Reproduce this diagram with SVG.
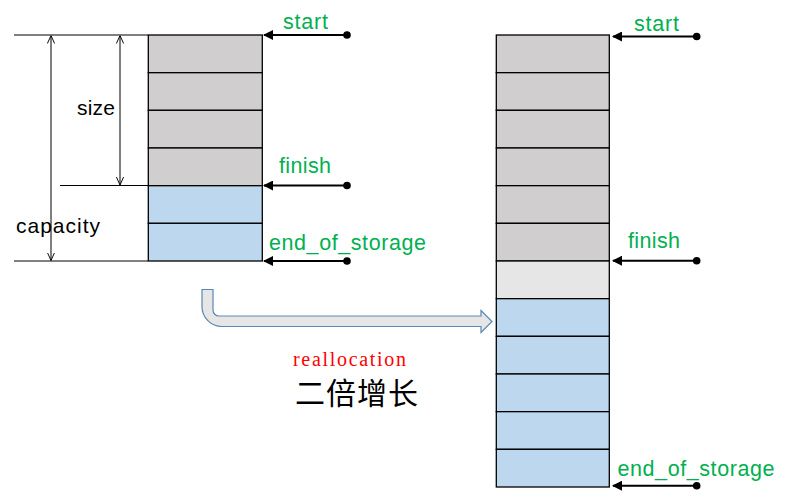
<svg xmlns="http://www.w3.org/2000/svg" width="790" height="497" viewBox="0 0 790 497">
<style>
.g{fill:#D0CECE;stroke:#000;stroke-width:1.3}
.l{fill:#E7E6E6;stroke:#000;stroke-width:1.3}
.b{fill:#BDD7EE;stroke:#000;stroke-width:1.3}
.ptr{stroke:#000;stroke-width:2;fill:none;marker-end:url(#tri)}
.dim{stroke:#000;stroke-width:1;fill:none}
.lbl{font-family:"Liberation Sans",Arial,sans-serif;font-size:21.5px;fill:#00B050}
.blk{font-family:"Liberation Sans",Arial,sans-serif;font-size:21px;fill:#000}
</style>
<defs>
<marker id="tri" viewBox="0 0 10 10" refX="9" refY="5" markerWidth="5" markerHeight="5" orient="auto" markerUnits="strokeWidth">
<path d="M0,0 L10,5 L0,10 Z" fill="#000"/>
</marker>
<marker id="vee" viewBox="0 0 10 10" refX="10" refY="5" markerWidth="8" markerHeight="8" orient="auto-start-reverse" markerUnits="userSpaceOnUse">
<path d="M0,0.5 L10,5 L0,9.5" fill="none" stroke="#000" stroke-width="1.2"/>
</marker>
</defs>
<rect width="790" height="497" fill="#fff"/>

<g id="left-vector">
<rect class="g" x="148.3" y="35" width="114" height="37.7"/>
<rect class="g" x="148.3" y="72.7" width="114" height="37.7"/>
<rect class="g" x="148.3" y="110.3" width="114" height="37.7"/>
<rect class="g" x="148.3" y="148" width="114" height="37.7"/>
<rect class="b" x="148.3" y="185.7" width="114" height="37.7"/>
<rect class="b" x="148.3" y="223.3" width="114" height="37.7"/>
</g>

<g id="right-vector">
<rect class="g" x="496.3" y="35" width="113" height="37.67"/>
<rect class="g" x="496.3" y="72.67" width="113" height="37.67"/>
<rect class="g" x="496.3" y="110.33" width="113" height="37.67"/>
<rect class="g" x="496.3" y="148" width="113" height="37.67"/>
<rect class="g" x="496.3" y="185.67" width="113" height="37.67"/>
<rect class="g" x="496.3" y="223.33" width="113" height="37.67"/>
<rect class="l" x="496.3" y="261" width="113" height="37.67"/>
<rect class="b" x="496.3" y="298.67" width="113" height="37.67"/>
<rect class="b" x="496.3" y="336.33" width="113" height="37.67"/>
<rect class="b" x="496.3" y="374" width="113" height="37.67"/>
<rect class="b" x="496.3" y="411.67" width="113" height="37.67"/>
<rect class="b" x="496.3" y="449.33" width="113" height="37.67"/>
</g>

<g id="dimensions">
<line class="dim" x1="14" y1="35" x2="148" y2="35"/>
<line class="dim" x1="60" y1="185.5" x2="148" y2="185.5"/>
<line class="dim" x1="14" y1="261" x2="148" y2="261"/>
<line class="dim" x1="51" y1="35.5" x2="51" y2="260.5" marker-start="url(#vee)" marker-end="url(#vee)"/>
<line class="dim" x1="120" y1="35.5" x2="120" y2="185" marker-start="url(#vee)" marker-end="url(#vee)"/>
<text class="blk" x="77" y="115" textLength="38">size</text>
<text class="blk" x="16" y="233" textLength="84">capacity</text>
</g>

<g id="connectors">
<line class="ptr" x1="347" y1="35" x2="264" y2="35"/>
<circle cx="347" cy="35" r="3.8"/>
<line class="ptr" x1="347" y1="185.5" x2="264" y2="185.5"/>
<circle cx="347" cy="185.5" r="3.8"/>
<line class="ptr" x1="347" y1="261" x2="264" y2="261"/>
<circle cx="347" cy="261" r="3.8"/>
<line class="ptr" x1="696.7" y1="36.5" x2="613" y2="36.5"/>
<circle cx="696.7" cy="36.5" r="3.8"/>
<line class="ptr" x1="696.7" y1="260.7" x2="613" y2="260.7"/>
<circle cx="696.7" cy="260.7" r="3.8"/>
<line class="ptr" x1="696.7" y1="485.7" x2="613" y2="485.7"/>
<circle cx="696.7" cy="485.7" r="3.8"/>
<path id="realloc-arrow" d="M202,289.5 V306.5 A20,20 0 0 0 222,326.5 H481 V332.5 L492,321.5 L481,310.5 V316 H219 A6,6 0 0 1 213,310 V289.5 Z" fill="#E7E6E6" stroke="#5B87B3" stroke-width="1.2"/>
</g>

<g id="pointer-labels">
<text class="lbl" x="283" y="29" textLength="45">start</text>
<text class="lbl" x="279" y="173" textLength="52">finish</text>
<text class="lbl" x="269" y="250" textLength="157">end_of_storage</text>
<text class="lbl" x="634" y="31" textLength="45">start</text>
<text class="lbl" x="628" y="248" textLength="52">finish</text>
<text class="lbl" x="617.5" y="475.5" textLength="157">end_of_storage</text>
</g>

<g id="caption">
<text x="293" y="365.5" textLength="113" font-family="'Liberation Serif','Times New Roman',serif" font-size="20" fill="#FF0000">reallocation</text>
<text x="295" y="404" textLength="123" font-family="'Noto Sans CJK SC','Noto Sans CJK JP',sans-serif" font-size="30" fill="#000">二倍增长</text>
</g>
</svg>
